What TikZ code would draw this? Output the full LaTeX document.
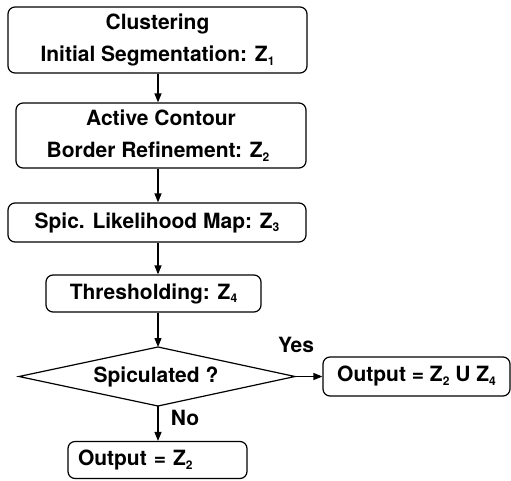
\documentclass[tikz,border=0pt]{standalone}
\usepackage{fontspec}
\setmainfont{TeX Gyre Heros}
\usetikzlibrary{arrows.meta}
\newcommand\mysub[1]{\raisebox{-3.5pt}{\fontsize{12}{12}\selectfont #1}}
\begin{document}
\begin{tikzpicture}[x=1pt,y=-1pt,
  every node/.style={font=\fontsize{21}{32}\selectfont\bfseries},
  procbox/.style={draw,line width=1.2pt,rounded corners=7pt,inner sep=0pt,align=center},
  decline/.style={draw,line width=1.2pt,line join=miter},
  flow/.style={line width=1.2pt,-{Triangle[length=9pt,width=7pt]}},
  lbl/.style={inner sep=0pt}]
\useasboundingbox (0,0) rectangle (511,480);
\node[procbox,minimum width=299pt,minimum height=66pt] (b1) at (157.5,40) {Clustering\\Initial Segmentation: Z\mysub{1}};
\node[procbox,minimum width=290pt,minimum height=65pt] (b2) at (161,135.5) {Active Contour\\\hspace*{-6pt}Border Refinement: Z\mysub{2}};
\node[procbox,minimum width=298pt,minimum height=39pt] (b3) at (157,222.5) {Spic. Likelihood Map: Z\mysub{3}};
\node[procbox,minimum width=215pt,minimum height=37pt] (b4) at (153.5,293.5) {Thresholding: Z\mysub{4}};
\coordinate (dn) at (158,347);
\coordinate (de) at (295,376.5);
\coordinate (ds) at (158,406);
\coordinate (dw) at (19,376.5);
\draw[decline] (dn) -- (de) -- (ds) -- (dw) -- cycle;
\node[inner sep=0pt] (d) at (156,376.5) {Spiculated ?};
\node[procbox,minimum width=187pt,minimum height=39pt] (oy) at (416.5,376.5) {Output = Z\mysub{2} U Z\mysub{4}};
\node[procbox,align=left,text width=159pt,inner xsep=10pt,minimum height=37pt] (on) at (157.5,460) {Output = Z\mysub{2}};
\coordinate (ax) at (158,0);
\draw[flow] (b1.south -| ax) -- (b2.north -| ax);
\draw[flow] (b2.south -| ax) -- (b3.north -| ax);
\draw[flow] (b3.south -| ax) -- (b4.north -| ax);
\draw[flow] (b4.south -| dn) -- (dn);
\draw[flow] (de) -- (oy.west);
\draw[flow] (ds) -- (ds |- on.north);
\node[lbl] (yes) at (296,345) {Yes};
\node[lbl] (no) at (185,418) {No};
\end{tikzpicture}
\end{document}
